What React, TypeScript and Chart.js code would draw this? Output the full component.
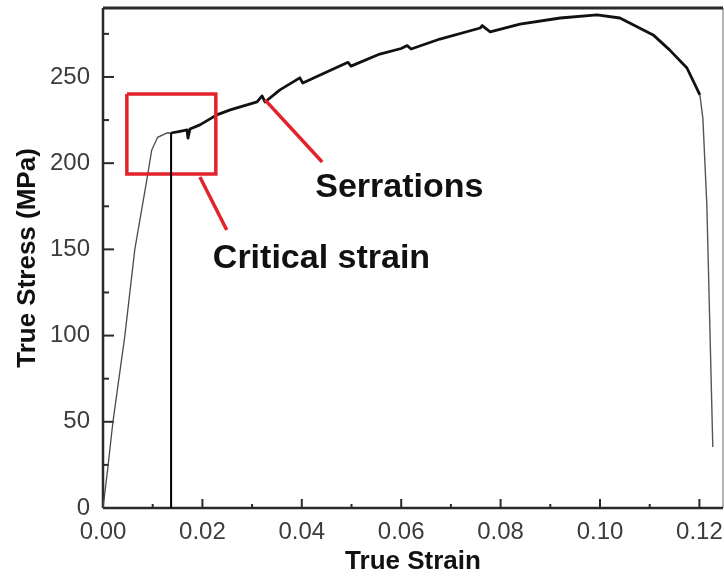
import React, { useEffect, useRef } from 'react';
import { Chart, registerables } from 'chart.js';

Chart.register(...registerables);

// ---- data ----
const elasticStrain = [0, 0.001, 0.002, 0.0044, 0.0064, 0.0088, 0.0098, 0.011, 0.0129, 0.0137];
const elasticStress = [0, 24, 50, 100, 150, 190, 207.6, 215, 217.5, 217.5];

const plasticStrain = [0.0137, 0.0155, 0.0169, 0.0171, 0.0175, 0.0195, 0.0229, 0.0256, 0.031, 0.032, 0.0326, 0.0356, 0.0396, 0.0402, 0.0437, 0.0493, 0.0499, 0.0557, 0.06, 0.0612, 0.062, 0.0678, 0.0759, 0.0763, 0.0779, 0.0839, 0.092, 0.0994, 0.104, 0.1107, 0.114, 0.1175, 0.1201];
const plasticStress = [217.5, 218.5, 219.3, 214.5, 219.8, 222.2, 228, 230.9, 235.5, 239, 235.5, 242.5, 249.5, 246.5, 251.2, 258.5, 256.3, 263.3, 266.5, 268.2, 266.2, 272, 278.4, 279.8, 276.2, 280.7, 284.2, 286, 284.2, 274.4, 265.7, 255.2, 239.6];

const dropStrain = [0.1201, 0.1207, 0.1215, 0.1227];
const dropStress = [239.6, 226, 175.8, 35.4];

const criticalStrain = 0.0137;
const criticalStress = 217.5;

const boxStrain = [0.0048, 0.0227];
const boxStress = [193.7, 240.1];

const leaderCriticalStrain = [0.0195, 0.0249];
const leaderCriticalStress = [192, 161.2];
const leaderSerrStrain = [0.0326, 0.0441];
const leaderSerrStress = [236.7, 200.7];

const labelTexts = ['Serrations', 'Critical strain'];
const labelStrain = [0.0427, 0.0221];
const labelStress = [180.4, 139.2];

const xTickValues = [0, 0.02, 0.04, 0.06, 0.08, 0.1, 0.12];
const xTickLabels = ['0.00', '0.02', '0.04', '0.06', '0.08', '0.10', '0.12'];
const xMinorTicks = [0.01, 0.03, 0.05, 0.07, 0.09, 0.11];
const yTickValues = [0, 50, 100, 150, 200, 250];
const yTickLabels = ['0', '50', '100', '150', '200', '250'];
const yMinorTicks = [25, 75, 125, 175, 225, 275];

const X_MAX = 0.12475;
const Y_MAX = 290;

const FONT = "'Liberation Sans', Arial, Helvetica, sans-serif";

const pts = (xs: number[], ys: number[]) => xs.map((x, i) => ({ x, y: ys[i] }));

const decorPlugin = {
  id: 'decor',
  beforeDatasetsDraw(chart: any) {
    const { ctx, chartArea: a, scales } = chart;
    const x = scales.x;
    const y = scales.y;
    const line = (x1: number, y1: number, x2: number, y2: number) => {
      ctx.beginPath();
      ctx.moveTo(x1, y1);
      ctx.lineTo(x2, y2);
      ctx.stroke();
    };
    ctx.save();
    // right border
    ctx.strokeStyle = '#9a9a9a';
    ctx.lineWidth = 1.5;
    line(a.right, a.top, a.right, a.bottom);
    // top border
    ctx.strokeStyle = '#2a2a2a';
    ctx.lineWidth = 3;
    line(a.left, a.top, a.right, a.top);
    // left and bottom axes
    ctx.lineWidth = 2.5;
    line(a.left, a.top, a.left, a.bottom);
    line(a.left, a.bottom, a.right, a.bottom);
    // ticks
    ctx.lineWidth = 2;
    yTickValues.forEach((v) => {
      const p = y.getPixelForValue(v);
      line(a.left, p, a.left + 11, p);
    });
    yMinorTicks.forEach((v) => {
      const p = y.getPixelForValue(v);
      line(a.left, p, a.left + 6, p);
    });
    xTickValues.forEach((v) => {
      const p = x.getPixelForValue(v);
      line(p, a.bottom, p, a.bottom - 9);
    });
    xMinorTicks.forEach((v) => {
      const p = x.getPixelForValue(v);
      line(p, a.bottom, p, a.bottom - 4);
    });
    ctx.restore();
  },
  afterDatasetsDraw(chart: any) {
    const { ctx, scales } = chart;
    ctx.save();
    ctx.fillStyle = '#111';
    ctx.font = `bold 34px ${FONT}`;
    ctx.textAlign = 'left';
    ctx.textBaseline = 'alphabetic';
    labelTexts.forEach((t, i) => {
      ctx.fillText(t, scales.x.getPixelForValue(labelStrain[i]), scales.y.getPixelForValue(labelStress[i]));
    });
    ctx.restore();
  },
};

export default function App() {
  const ref = useRef<HTMLCanvasElement | null>(null);

  useEffect(() => {
    if (!ref.current) return;
    const red = '#e3232b';
    const chart = new Chart(ref.current, {
      type: 'scatter',
      data: {
        datasets: [
          {
            label: 'Critical line',
            data: pts([criticalStrain, criticalStrain], [0, criticalStress]),
            showLine: true,
            borderColor: '#000',
            borderWidth: 2,
            pointRadius: 0,
          },
          {
            label: 'Box',
            data: pts(
              [boxStrain[0], boxStrain[1], boxStrain[1], boxStrain[0], boxStrain[0]],
              [boxStress[1], boxStress[1], boxStress[0], boxStress[0], boxStress[1]]
            ),
            showLine: true,
            borderColor: red,
            borderWidth: 3.5,
            borderJoinStyle: 'miter',
            pointRadius: 0,
          },
          {
            label: 'Leader 1',
            data: pts(leaderCriticalStrain, leaderCriticalStress),
            showLine: true,
            borderColor: red,
            borderWidth: 3.5,
            pointRadius: 0,
          },
          {
            label: 'Leader 2',
            data: pts(leaderSerrStrain, leaderSerrStress),
            showLine: true,
            borderColor: red,
            borderWidth: 3.5,
            pointRadius: 0,
          },
          {
            label: 'Elastic',
            data: pts(elasticStrain, elasticStress),
            showLine: true,
            borderColor: '#4a4a4a',
            borderWidth: 1.3,
            pointRadius: 0,
          },
          {
            label: 'Plastic',
            data: pts(plasticStrain, plasticStress),
            showLine: true,
            borderColor: '#111',
            borderWidth: 2.8,
            borderJoinStyle: 'round',
            pointRadius: 0,
          },
          {
            label: 'Fracture',
            data: pts(dropStrain, dropStress),
            showLine: true,
            borderColor: '#555',
            borderWidth: 1.4,
            pointRadius: 0,
          },
        ],
      },
      options: {
        animation: false,
        responsive: false,
        devicePixelRatio: 1,
        layout: { padding: { top: 8, right: 1, left: 0, bottom: 0 } },
        plugins: { legend: { display: false }, tooltip: { enabled: false } },
        scales: {
          x: {
            type: 'linear',
            min: 0,
            max: X_MAX,
            grid: { display: false, drawTicks: false },
            border: { display: false },
            afterBuildTicks: (s: any) => {
              s.ticks = xTickValues.map((v) => ({ value: v }));
            },
            afterFit: (s: any) => {
              s.height = 70;
              s.paddingLeft = 0;
              s.paddingRight = 0;
            },
            ticks: {
              autoSkip: false,
              maxRotation: 0,
              padding: 10,
              color: '#3c3c3c',
              font: { family: FONT, size: 24 },
              callback: (v: any) => {
                const i = xTickValues.indexOf(Number(v));
                return i >= 0 ? xTickLabels[i] : '';
              },
            },
            title: {
              display: true,
              text: 'True Strain',
              color: '#111',
              font: { family: FONT, size: 26, weight: 'bold' },
              padding: { top: 0, bottom: 1 },
            },
          },
          y: {
            type: 'linear',
            min: 0,
            max: Y_MAX,
            grid: { display: false, drawTicks: false },
            border: { display: false },
            afterBuildTicks: (s: any) => {
              s.ticks = yTickValues.map((v) => ({ value: v }));
            },
            afterFit: (s: any) => {
              s.width = 103;
              s.paddingTop = 0;
              s.paddingBottom = 0;
            },
            ticks: {
              autoSkip: false,
              padding: 13,
              color: '#3c3c3c',
              font: { family: FONT, size: 24 },
              callback: (v: any) => {
                const i = yTickValues.indexOf(Number(v));
                return i >= 0 ? yTickLabels[i] : '';
              },
            },
            title: {
              display: true,
              text: 'True Stress (MPa)',
              color: '#111',
              font: { family: FONT, size: 26, weight: 'bold' },
              padding: { top: 12, bottom: 0 },
            },
          },
        },
      },
      plugins: [decorPlugin],
    } as any);
    return () => chart.destroy();
  }, []);

  return (
    <div style={{ position: 'absolute', left: 0, top: 0, width: 724, height: 578, background: '#fff' }}>
      <canvas ref={ref} width={724} height={578} style={{ width: 724, height: 578, display: 'block' }} />
    </div>
  );
}
